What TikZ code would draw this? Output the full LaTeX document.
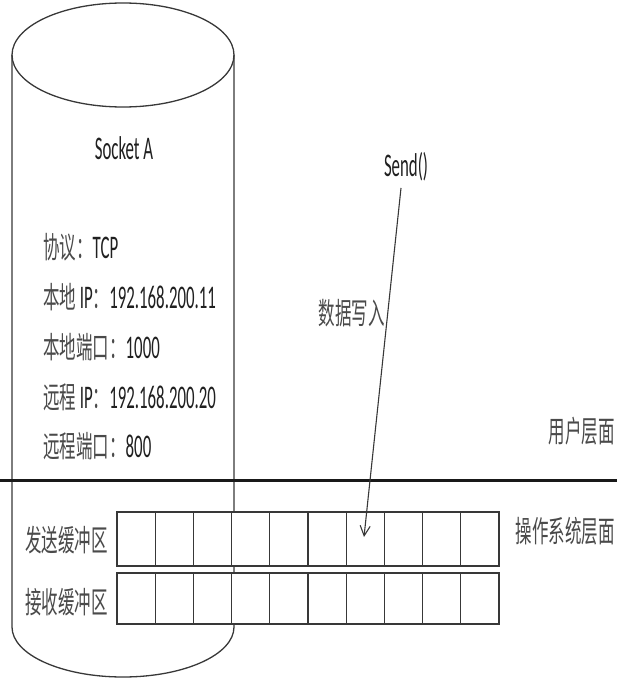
\documentclass[tikz,border=0pt]{standalone}
\usepackage{fontspec}
\setmainfont{Carlito}[FakeStretch=0.51]
\newfontfamily\cjk{Noto Sans CJK SC}[FakeStretch=0.55]
\usetikzlibrary{arrows.meta}
\definecolor{txtgray}{HTML}{4A4A4A}
\definecolor{latgray}{HTML}{202020}
\definecolor{linegray}{HTML}{383838}
\tikzset{
  lbl/.style={inner sep=0pt, text=latgray, font=\fontsize{33}{36}\selectfont},
  cjklbl/.style={inner sep=0pt, text=txtgray, font=\fontsize{30}{34}\selectfont\cjk},
  cell/.style={draw=linegray, line width=1.3pt, fill=white, minimum width=38.2pt, minimum height=54pt, inner sep=0pt},
  rcell/.style={cell, minimum height=51pt},
  cyl/.style={draw=linegray, line width=1.3pt},
  sendarrow/.style={draw=linegray, line width=1.1pt, -{Straight Barb[length=10pt,width=10pt]}}
}
\newcommand{\zh}[1]{{\cjk\fontsize{30}{34}\selectfont\color{txtgray}#1}}
\begin{document}
\begin{tikzpicture}[x=1pt,y=-1pt]
\useasboundingbox[fill=white] (0,0) rectangle (617,679);
% cylinder
\draw[cyl] (123,55) ellipse [x radius=111, y radius=52];
\draw[cyl] (12,55) -- (12,627) arc[start angle=180, end angle=360, x radius=111, y radius=-50] -- (234,55);
% divider line
\coordinate (lineL) at (0,480);
\coordinate (lineR) at (617,480);
\draw[line width=3pt, draw=black!90] (lineL) -- (lineR);
% buffers
\foreach \i in {0,...,9} {
  \node[cell] (s\i) at ({117+38.2*\i+19.1},539) {};
  \node[rcell] (r\i) at ({117+38.2*\i+19.1},598.5) {};
}
% texts
\node[lbl] (sock) at (124,148) {Socket A};
\node[lbl, anchor=west] (p1) at (43,247) {\zh{协议：}TCP};
\node[lbl, anchor=west] (p2) at (43,297) {\zh{本地 }IP\zh{：}192.168.200.11};
\node[lbl, anchor=west] (p3) at (43,347) {\zh{本地端口：}1000};
\node[lbl, anchor=west] (p4) at (43,397) {\zh{远程 }IP\zh{：}192.168.200.20};
\node[lbl, anchor=west] (p5) at (43,446) {\zh{远程端口：}800};
\node[lbl] (send) at (406,167) {Send()};
\node[cjklbl, anchor=east] (write) at (385,313) {数据写入};
\node[cjklbl, anchor=east] (user) at (615,431) {用户层面};
\node[cjklbl, anchor=east] (os) at (615,531) {操作系统层面};
\node[cjklbl, anchor=east] (sbuf) at (108,540) {发送缓冲区};
\node[cjklbl, anchor=east] (rbuf) at (108,602) {接收缓冲区};
% arrow
\coordinate (astart) at (401,188);
\coordinate (aend) at (364,537);
\draw[sendarrow] (astart) -- (aend);
\end{tikzpicture}
\end{document}
